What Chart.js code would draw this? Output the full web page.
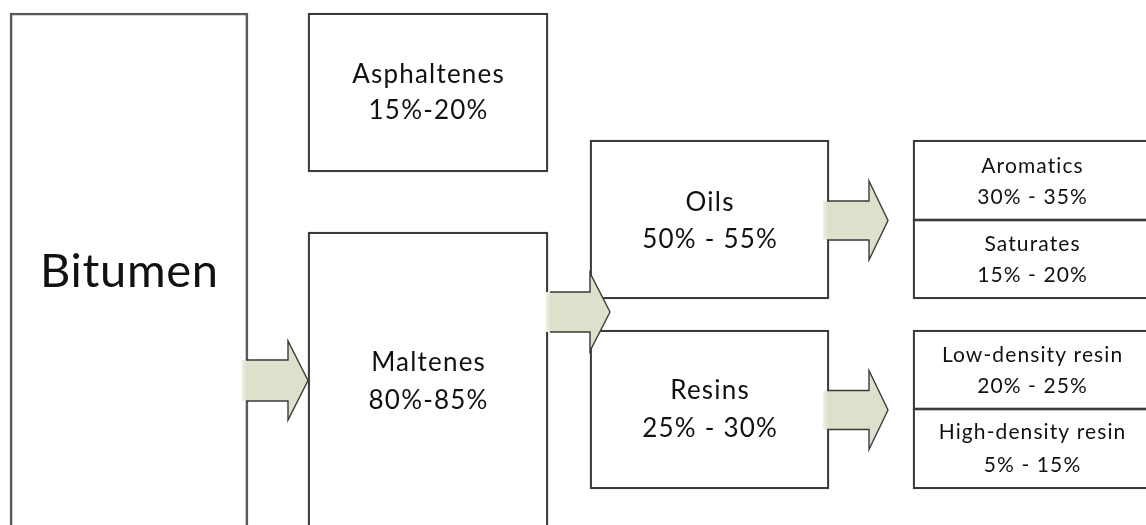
<!DOCTYPE html>
<html>
<head>
<meta charset="utf-8">
<script src="https://cdn.jsdelivr.net/npm/chart.js@4.4.1/dist/chart.umd.min.js"></script>
<style>
html,body{margin:0;padding:0;background:#fff;overflow:hidden;}
#c{display:block;}
</style>
</head>
<body>
<canvas id="c" width="1146" height="525"></canvas>
<script>
// ---- data ----
const groupNames = ['Bitumen', 'Asphaltenes', 'Maltenes', 'Oils', 'Resins'];
const groupRanges = ['', '15%-20%', '80%-85%', '50% - 55%', '25% - 30%'];
const subNames = ['Aromatics', 'Saturates', 'Low-density resin', 'High-density resin'];
const subRanges = ['30% - 35%', '15% - 20%', '20% - 25%', '5% - 15%'];

// ---- layout (diagram units = pixels of the 1146x525 view) ----
const boxLayout = [
  {x0: 10,  x1: 248, y0: 13,  y1: 535, font: 47, sp: 0.7, base: [287]},
  {x0: 308, x1: 548, y0: 13,  y1: 172, font: 26, sp: 1.2, base: [83, 119]},
  {x0: 308, x1: 548, y0: 232, y1: 535, font: 26, sp: 1.2, base: [371, 409]},
  {x0: 590, x1: 829, y0: 140, y1: 299, font: 26, sp: 1.2, base: [211, 248]},
  {x0: 590, x1: 829, y0: 330, y1: 489, font: 26, sp: 1.2, base: [399, 437]}
];
const subLayout = [
  {x0: 913, x1: 1152, y0: 140,   y1: 220.8, base: [173, 204]},
  {x0: 913, x1: 1152, y0: 219.2, y1: 299,   base: [251, 282]},
  {x0: 913, x1: 1152, y0: 330,   y1: 409.8, base: [362, 393]},
  {x0: 913, x1: 1152, y0: 408.2, y1: 489,   base: [439, 472]}
];
const subFont = {size: 21, sp: 1.1, cx: 1032};
const arrowLayout = [
  {x0: 242, xh: 288, xt: 308, cy: 380.5, sh: 20.5, hh: 39.5},
  {x0: 546, xh: 590, xt: 610, cy: 312,   sh: 20,   hh: 39},
  {x0: 823, xh: 869, xt: 888, cy: 220.5, sh: 19.5, hh: 39.5},
  {x0: 823, xh: 869, xt: 888, cy: 410,   sh: 19.5, hh: 39.5}
];

const FONT = 'Lato, "Open Sans", sans-serif';
const LINE = '#3a3a3a';

function boxDataset(b, i, isBitumen) {
  return {
    label: 'box' + i,
    data: [{x: (b.x0 + b.x1) / 2, y: [b.y0, b.y1]}],
    barThickness: b.x1 - b.x0,
    backgroundColor: 'rgba(255,255,255,0)',
    borderColor: isBitumen ? '#5a5a5a' : LINE,
    borderWidth: isBitumen ? 2 : 1.6,
    borderSkipped: false,
    grouped: false
  };
}

const datasets = [];
boxLayout.forEach((b, i) => datasets.push(boxDataset(b, i, i === 0)));
subLayout.forEach((b, i) => datasets.push(boxDataset(b, 'sub' + i, false)));

function spacedText(ctx, txt, x, y, sp) {
  ctx.letterSpacing = sp + 'px';
  ctx.fillText(txt, x + sp / 2, y);
}

const diagramPlugin = {
  id: 'diagram',
  afterDatasetsDraw(chart) {
    const ctx = chart.ctx;
    const xs = chart.scales.x, ys = chart.scales.y;
    const px = v => xs.getPixelForValue(v);
    const py = v => ys.getPixelForValue(v);

    // arrows
    arrowLayout.forEach(a => {
      ctx.save();
      ctx.beginPath();
      ctx.moveTo(px(a.x0), py(a.cy - a.sh));
      ctx.lineTo(px(a.xh), py(a.cy - a.sh));
      ctx.lineTo(px(a.xh), py(a.cy - a.hh));
      ctx.lineTo(px(a.xt), py(a.cy));
      ctx.lineTo(px(a.xh), py(a.cy + a.hh));
      ctx.lineTo(px(a.xh), py(a.cy + a.sh));
      ctx.lineTo(px(a.x0), py(a.cy + a.sh));
      ctx.closePath();
      const g = ctx.createLinearGradient(px(a.x0), 0, px(a.x0) + 5, 0);
      g.addColorStop(0, '#eef0e4');
      g.addColorStop(1, '#dde0cb');
      ctx.fillStyle = g;
      ctx.fill();
      ctx.beginPath();
      ctx.moveTo(px(a.x0) + 4, py(a.cy - a.sh));
      ctx.lineTo(px(a.xh), py(a.cy - a.sh));
      ctx.lineTo(px(a.xh), py(a.cy - a.hh));
      ctx.lineTo(px(a.xt), py(a.cy));
      ctx.lineTo(px(a.xh), py(a.cy + a.hh));
      ctx.lineTo(px(a.xh), py(a.cy + a.sh));
      ctx.lineTo(px(a.x0) + 4, py(a.cy + a.sh));
      ctx.strokeStyle = LINE;
      ctx.lineWidth = 1.4;
      ctx.lineJoin = 'miter';
      ctx.stroke();
      ctx.restore();
    });

    // texts
    ctx.save();
    ctx.fillStyle = '#111111';
    ctx.textAlign = 'center';
    ctx.textBaseline = 'alphabetic';
    boxLayout.forEach((b, i) => {
      ctx.font = b.font + 'px ' + FONT;
      const cx = px((b.x0 + b.x1) / 2);
      spacedText(ctx, groupNames[i], cx, py(b.base[0]), b.sp);
      if (groupRanges[i] && b.base[1]) spacedText(ctx, groupRanges[i], cx, py(b.base[1]), b.sp);
    });
    ctx.font = subFont.size + 'px ' + FONT;
    subLayout.forEach((b, i) => {
      const cx = px(subFont.cx);
      spacedText(ctx, subNames[i], cx, py(b.base[0]), subFont.sp);
      spacedText(ctx, subRanges[i], cx, py(b.base[1]), subFont.sp);
    });
    ctx.restore();
  }
};

new Chart(document.getElementById('c'), {
  type: 'bar',
  data: {datasets},
  options: {
    responsive: false,
    animation: false,
    devicePixelRatio: 1,
    layout: {padding: 0},
    plugins: {legend: {display: false}, tooltip: {enabled: false}},
    scales: {
      x: {type: 'linear', min: 0, max: 1146, display: false, offset: false},
      y: {type: 'linear', min: 0, max: 525, reverse: true, display: false}
    }
  },
  plugins: [diagramPlugin]
});
</script>
</body>
</html>
